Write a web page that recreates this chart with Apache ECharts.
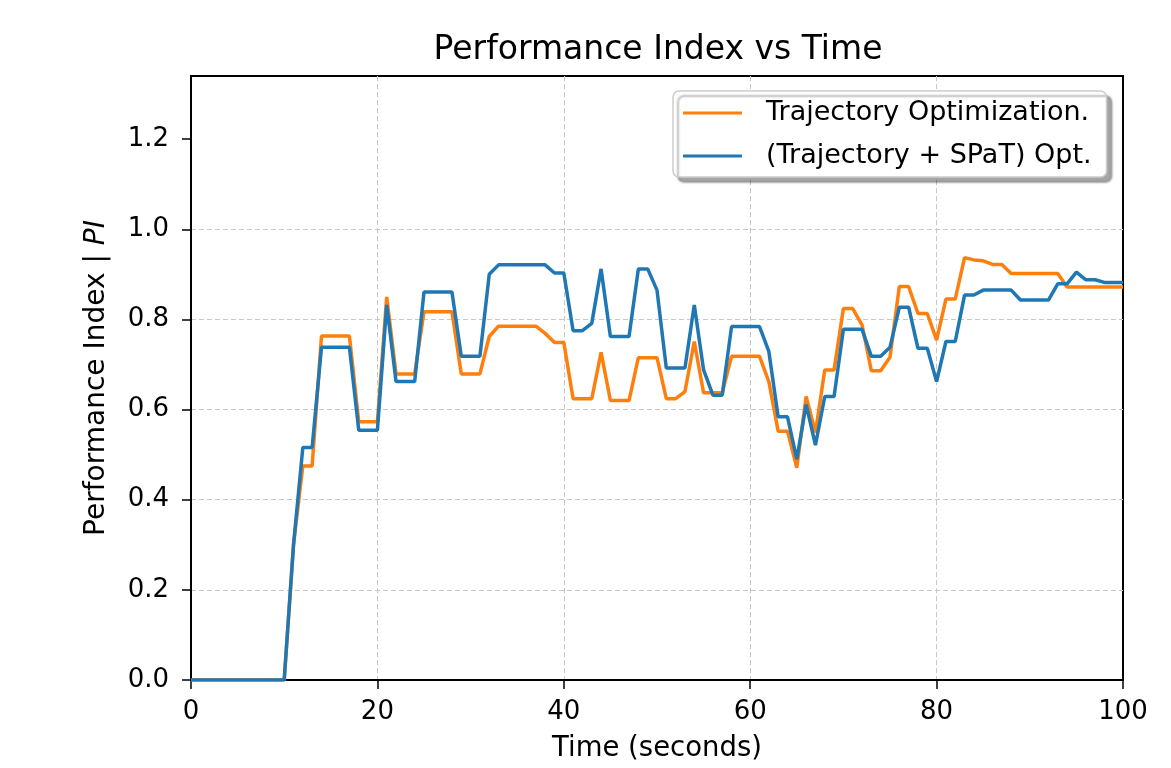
<!DOCTYPE html>
<html>
<head>
<meta charset="utf-8">
<script src="https://cdn.jsdelivr.net/npm/echarts@6/dist/echarts.min.js"></script>
<style>
html,body{margin:0;padding:0;background:#fff;}
#chart{width:1171px;height:768px;}
</style>
</head>
<body>
<div id="chart"></div>
<script>
const timeSec = [0,1,2,3,4,5,6,7,8,9,10,11,12,13,14,15,16,17,18,19,20,21,22,23,24,25,26,27,28,29,30,31,32,33,34,35,36,37,38,39,40,41,42,43,44,45,46,47,48,49,50,51,52,53,54,55,56,57,58,59,60,61,62,63,64,65,66,67,68,69,70,71,72,73,74,75,76,77,78,79,80,81,82,83,84,85,86,87,88,89,90,91,92,93,94,95,96,97,98,99,100];

const trajOpt = [0,0,0,0,0,0,0,0,0,0,0,0.30,0.475,0.475,0.763,0.763,0.763,0.763,0.573,0.573,0.573,0.85,0.679,0.679,0.679,0.817,0.817,0.817,0.817,0.679,0.679,0.679,0.762,0.785,0.785,0.785,0.785,0.785,0.769,0.749,0.749,0.624,0.624,0.624,0.727,0.62,0.62,0.62,0.715,0.715,0.715,0.624,0.624,0.640,0.751,0.637,0.637,0.637,0.718,0.718,0.718,0.718,0.662,0.552,0.552,0.471,0.629,0.549,0.688,0.688,0.824,0.824,0.788,0.686,0.686,0.716,0.873,0.873,0.813,0.813,0.754,0.845,0.845,0.937,0.932,0.930,0.922,0.922,0.902,0.902,0.902,0.902,0.902,0.902,0.872,0.872,0.872,0.872,0.872,0.872,0.872];

const trajSpatOpt = [0,0,0,0,0,0,0,0,0,0,0,0.30,0.516,0.516,0.738,0.738,0.738,0.738,0.554,0.554,0.554,0.832,0.662,0.662,0.662,0.861,0.861,0.861,0.861,0.718,0.718,0.718,0.90,0.921,0.921,0.921,0.921,0.921,0.921,0.903,0.903,0.775,0.775,0.791,0.912,0.762,0.762,0.762,0.912,0.912,0.865,0.692,0.692,0.692,0.832,0.688,0.632,0.632,0.784,0.784,0.784,0.784,0.729,0.584,0.584,0.490,0.611,0.521,0.629,0.629,0.778,0.778,0.778,0.718,0.718,0.738,0.827,0.827,0.736,0.736,0.662,0.751,0.751,0.854,0.854,0.865,0.865,0.865,0.865,0.843,0.843,0.843,0.843,0.879,0.879,0.905,0.888,0.888,0.882,0.882,0.882];

const yTicks = [0,0.2,0.4,0.6,0.8,1.0,1.2];
const xTicks = [0,20,40,60,80,100];
const seriesNames = ['Trajectory Optimization.', '(Trajectory + SPaT) Opt.'];

const FONT = 'DejaVu Sans';
const pair = (xs, ys) => xs.map((x, i) => [x, ys[i]]);

const chart = echarts.init(document.getElementById('chart'), null, {renderer: 'canvas'});
chart.setOption({
  animation: false,
  backgroundColor: '#fff',
  textStyle: {fontFamily: FONT},
  title: {
    text: 'Performance Index vs Time',
    left: 653, top: 29, textAlign: 'center',
    textStyle: {fontFamily: FONT, fontSize: 33, fontWeight: 'normal', color: '#000'}
  },
  grid: {
    left: 191, right: 48, top: 76, bottom: 86,
    show: true, borderColor: '#000', borderWidth: 2, backgroundColor: 'transparent'
  },
  legend: {
    orient: 'vertical', left: 673, top: 91,
    padding: [7, 15, 6, 10],
    itemWidth: 59, itemHeight: 3, itemGap: 13,
    icon: 'rect',
    backgroundColor: '#fff', borderColor: '#cccccc', borderWidth: 1.5, borderRadius: 6,
    shadowColor: 'rgba(0,0,0,0.35)', shadowOffsetX: 5, shadowOffsetY: 5, shadowBlur: 2,
    textStyle: {fontFamily: FONT, fontSize: 27, color: '#000', lineHeight: 30, padding: [0, 0, 0, 19]},
    data: seriesNames
  },
  xAxis: {
    type: 'value', min: 0, max: 100, interval: 20,
    name: 'Time (seconds)', nameLocation: 'middle', nameGap: 55,
    nameTextStyle: {fontFamily: FONT, fontSize: 27.5, color: '#000'},
    axisLine: {show: true, lineStyle: {color: '#000', width: 2}},
    axisTick: {show: true, inside: false, length: 9, lineStyle: {color: '#000', width: 1.5}, customValues: xTicks},
    axisLabel: {fontFamily: FONT, fontSize: 26, color: '#000', margin: 19, customValues: xTicks},
    splitLine: {show: true, showMinLine: false, showMaxLine: false, lineStyle: {color: '#c8c8c8', width: 1, type: [5, 3]}}
  },
  yAxis: {
    type: 'value', min: 0, max: 1.34, interval: 0.2,
    name: '{n|Performance Index | }{i|PI}', nameLocation: 'middle', nameGap: 80,
    nameTextStyle: {
      fontFamily: FONT, fontSize: 28, color: '#000',
      rich: {
        n: {fontFamily: FONT, fontSize: 28, color: '#000'},
        i: {fontFamily: FONT, fontSize: 28, color: '#000', fontStyle: 'italic'}
      }
    },
    axisLine: {show: true, lineStyle: {color: '#000', width: 2}},
    axisTick: {show: true, inside: false, length: 9, lineStyle: {color: '#000', width: 1.5}, customValues: yTicks},
    axisLabel: {fontFamily: FONT, fontSize: 26, color: '#000', margin: 22, customValues: yTicks,
      formatter: v => v.toFixed(1)},
    splitLine: {show: true, showMinLine: false, showMaxLine: false, lineStyle: {color: '#c8c8c8', width: 1, type: [5, 3]}}
  },
  series: [
    {
      name: seriesNames[0], type: 'line', data: pair(timeSec, trajOpt),
      showSymbol: false, symbol: 'none', color: '#ff7f0e',
      lineStyle: {color: '#ff7f0e', width: 3.5}, z: 2
    },
    {
      name: seriesNames[1], type: 'line', data: pair(timeSec, trajSpatOpt),
      showSymbol: false, symbol: 'none', color: '#1f77b4',
      lineStyle: {color: '#1f77b4', width: 3.5}, z: 3
    }
  ]
});
</script>
</body>
</html>
